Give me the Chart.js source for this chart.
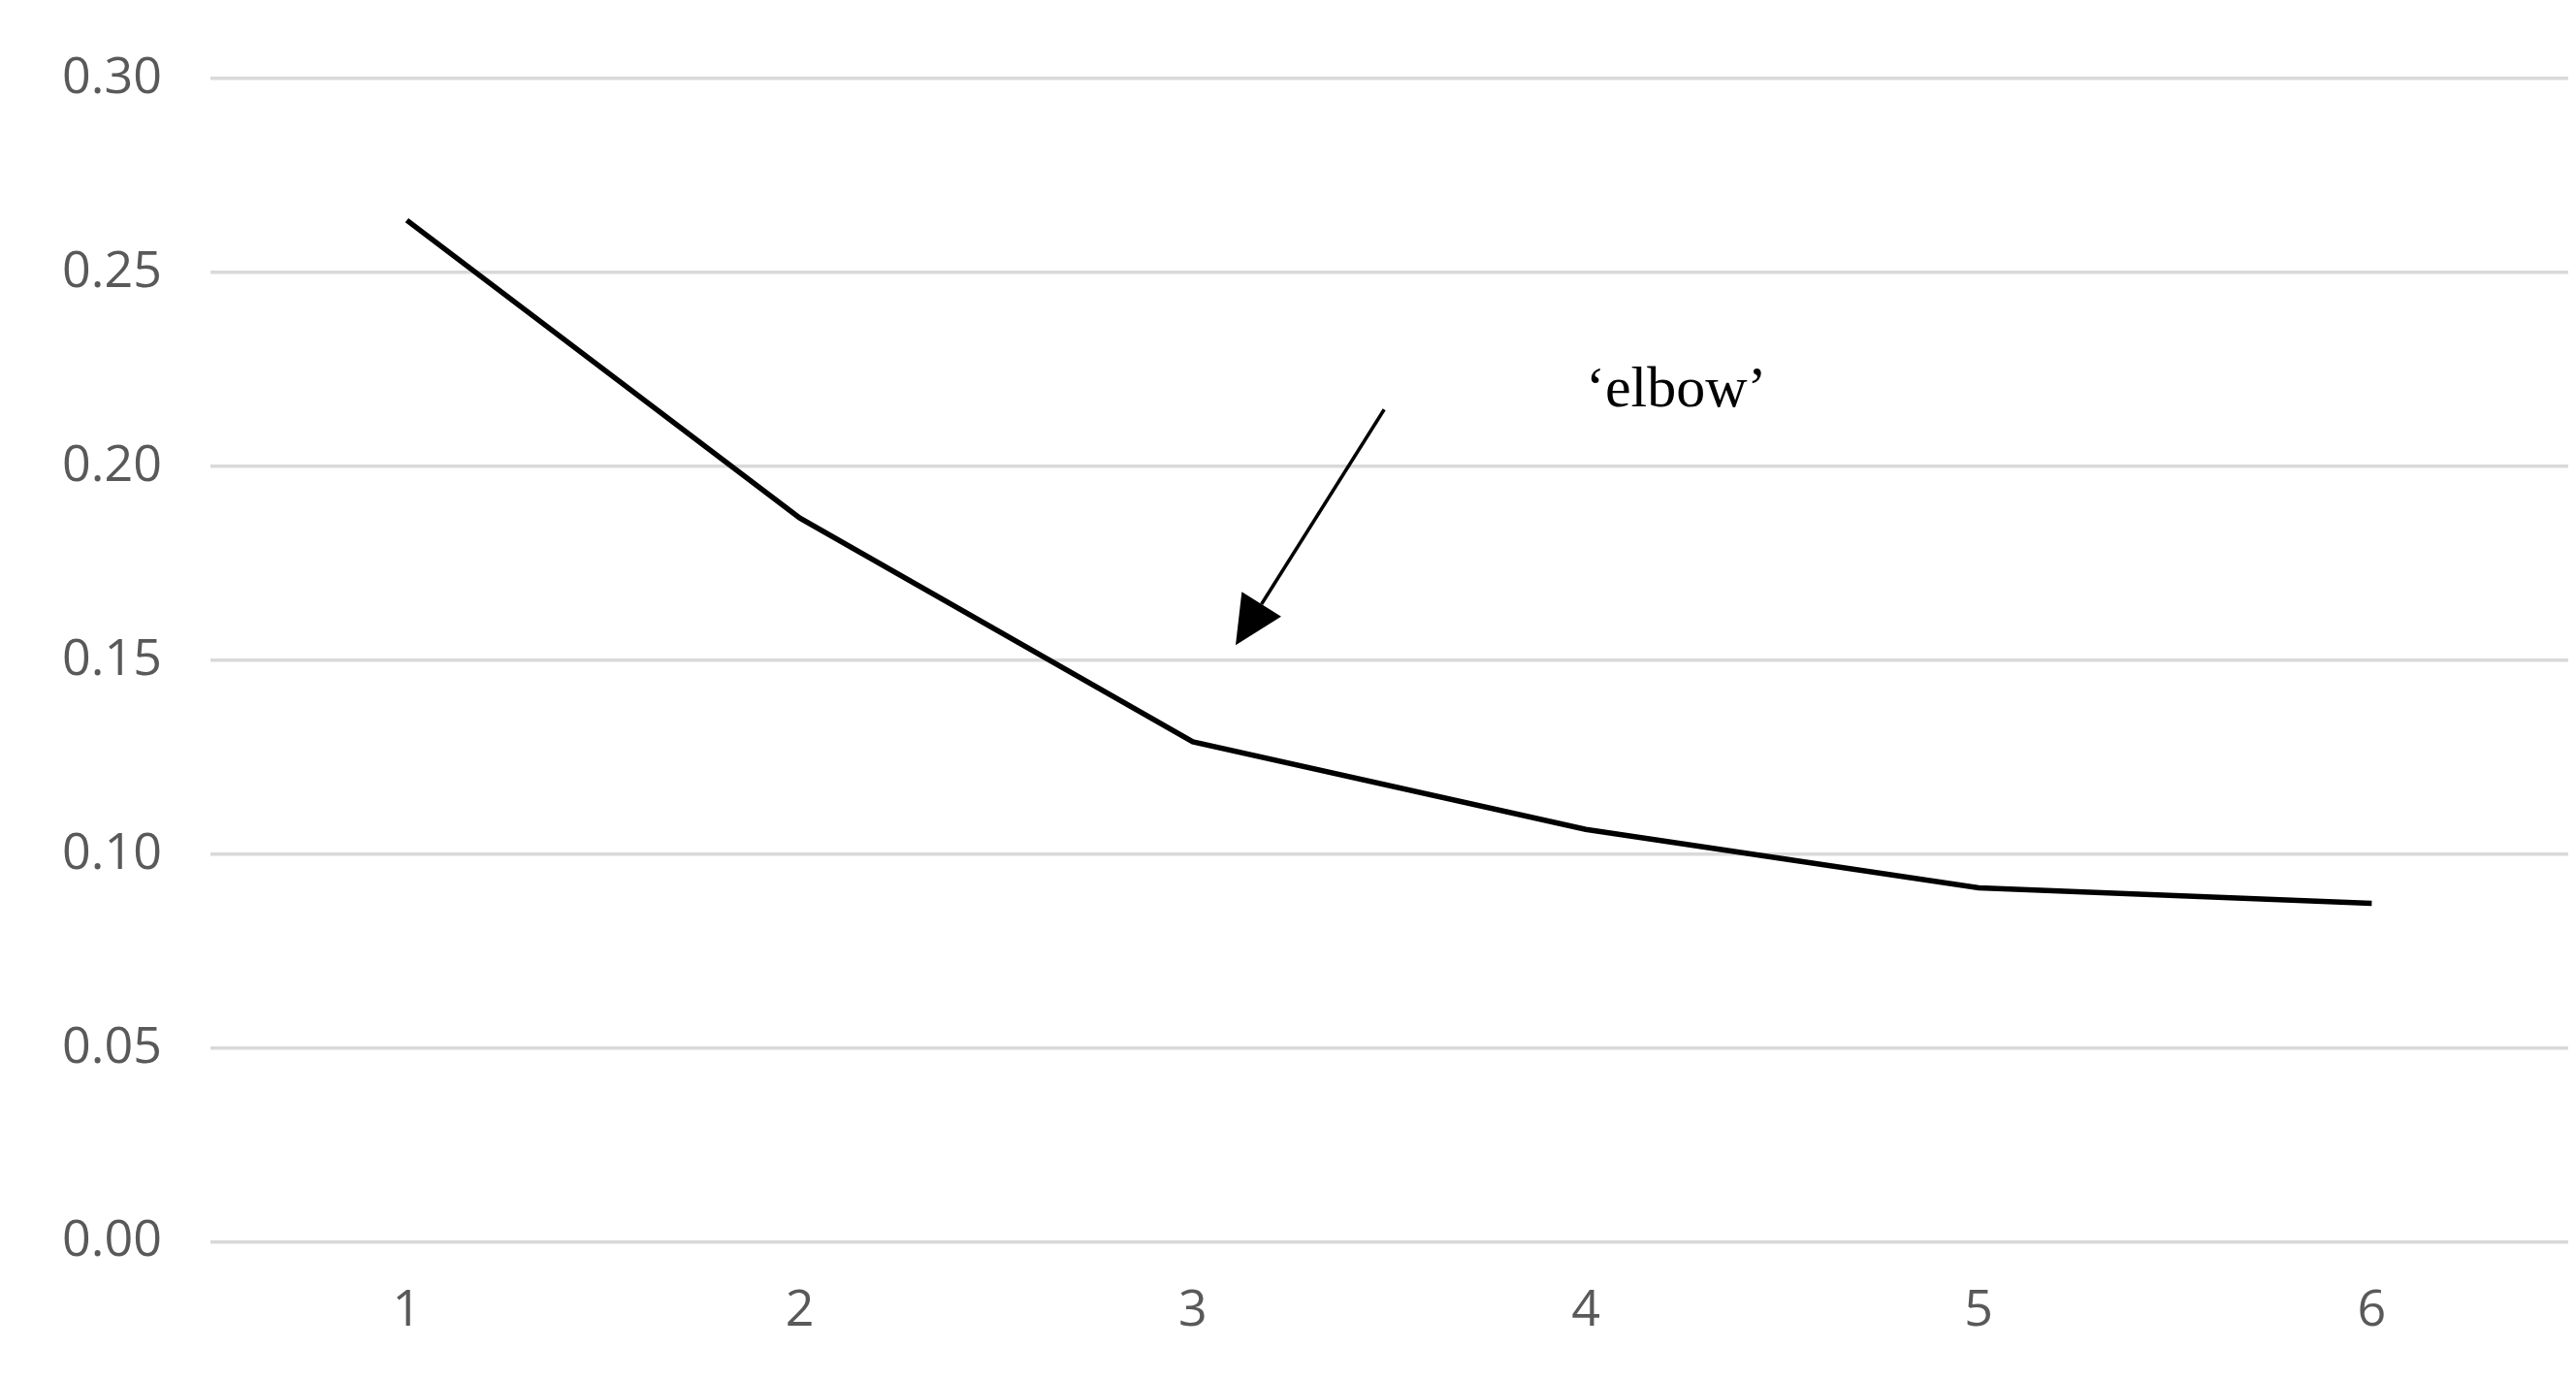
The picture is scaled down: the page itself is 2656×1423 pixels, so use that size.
<!DOCTYPE html>
<html>
<head>
<meta charset="utf-8">
<script src="https://cdn.jsdelivr.net/npm/chart.js@4/dist/chart.umd.min.js"></script>
<style>
  html, body { margin: 0; padding: 0; background: #fff; }
  #wrap { width: 2656px; height: 1423px; }
</style>
</head>
<body>
<div id="wrap"><canvas id="c"></canvas></div>
<script>
// clusters vs. score
const clusters = ["1", "2", "3", "4", "5", "6"];
const scores = [0.2635, 0.1867, 0.129, 0.1064, 0.0913, 0.0873];
const yTicks = [0, 0.05, 0.10, 0.15, 0.20, 0.25, 0.30];

// annotation in data units (category index, value)
const arrowFrom = [2.487, 0.2147];
const arrowTo = [2.109, 0.1539];
const labelAt = [3.23, 0.2195];
const labelText = "\u2018elbow\u2019";

const elbowNote = {
  id: "elbowNote",
  afterDatasetsDraw(chart) {
    const { ctx, scales: { x, y } } = chart;
    const px = (p) => [x.getPixelForValue(p[0]), y.getPixelForValue(p[1])];
    const [x1, y1] = px(arrowFrom), [x2, y2] = px(arrowTo);
    ctx.save();
    // white box hiding gridline under the text
    ctx.fillStyle = "#fff";
    const [lx, ly] = px(labelAt);
    ctx.fillRect(lx - 220, ly - 40, 420, 100);
    ctx.strokeStyle = "#000"; ctx.fillStyle = "#000"; ctx.lineWidth = 3.5;
    const ang = Math.atan2(y2 - y1, x2 - x1);
    const head = 50, hw = 24;
    const bx = x2 - head * Math.cos(ang), by = y2 - head * Math.sin(ang);
    ctx.beginPath(); ctx.moveTo(x1, y1); ctx.lineTo(bx, by); ctx.stroke();
    ctx.beginPath();
    ctx.moveTo(x2, y2);
    ctx.lineTo(bx + hw * Math.sin(ang), by - hw * Math.cos(ang));
    ctx.lineTo(bx - hw * Math.sin(ang), by + hw * Math.cos(ang));
    ctx.closePath(); ctx.fill();
    ctx.font = "60px 'Liberation Serif', serif";
    ctx.textAlign = "center"; ctx.textBaseline = "middle";
    ctx.fillText(labelText, lx, ly);
    ctx.restore();
  }
};

new Chart(document.getElementById("c"), {
  type: "line",
  data: {
    labels: clusters,
    datasets: [{ data: scores, borderColor: "#000", borderWidth: 5.5, pointRadius: 0, tension: 0 }]
  },
  options: {
    responsive: true, maintainAspectRatio: false, animation: false,
    layout: { padding: { top: 8, right: 8, bottom: 0, left: 14 } },
    plugins: { legend: { display: false }, tooltip: { enabled: false } },
    scales: {
      x: {
        offset: true,
        grid: { display: false, drawTicks: false },
        border: { display: false },
        ticks: { color: "#595959", font: { family: "'Open Sans', sans-serif", size: 52 }, padding: 40 }
      },
      y: {
        min: 0, max: 0.30,
        afterBuildTicks: (s) => { s.ticks = yTicks.map(v => ({ value: v })); },
        grid: { color: "#d9d9d9", lineWidth: 3.5, drawTicks: false },
        border: { display: false },
        ticks: { color: "#595959", font: { family: "'Open Sans', sans-serif", size: 52 }, padding: 50,
          callback: (v) => v.toFixed(2) }
      }
    }
  },
  plugins: [elbowNote]
});
</script>
</body>
</html>
